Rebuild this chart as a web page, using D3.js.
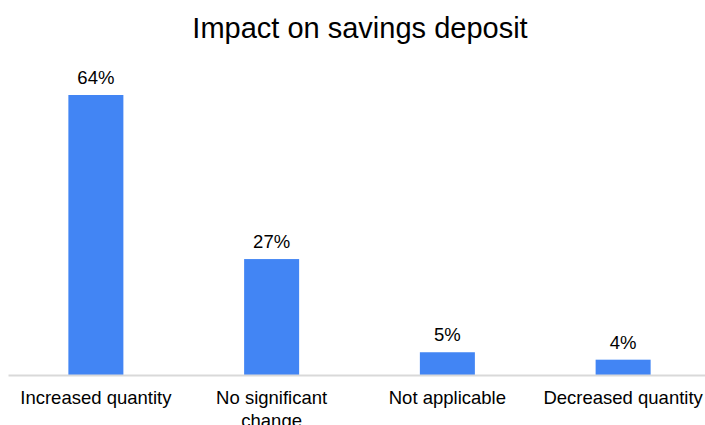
<!DOCTYPE html>
<html>
<head>
<meta charset="utf-8">
<script src="https://cdn.jsdelivr.net/npm/d3@7"></script>
<style>
  body { margin: 0; background: #fff; }
  text { font-family: "Liberation Sans", Arial, sans-serif; fill: #000; }
</style>
</head>
<body>
<div id="chart"></div>
<script>
'use strict'

const categories = ["Increased quantity", "No significant\nchange", "Not applicable", "Decreased quantity"];
const values = [64.0, 26.5, 5.2, 3.5];
const title = "Impact on savings deposit";

let svg = d3.select('#chart')
  .append('svg')
  .attr('width', 705)
  .attr('height', 425);

let baseY = 375;

let x = d3.scaleBand()
  .domain(categories)
  .range([8, 711])
  .paddingInner(0.687)
  .paddingOuter(0.3435);

let y = d3.scaleLinear()
  .domain([0, 70])
  .range([baseY, baseY - 70 * 4.375]);

svg.append('text')
  .attr('x', 360)
  .attr('y', 38)
  .attr('text-anchor', 'middle')
  .style('font-size', '29px')
  .text(title);

// bars
svg.selectAll('rect.bar')
  .data(values)
  .enter().append('rect')
  .attr('class', 'bar')
  .attr('x', (d, i) => x(categories[i]))
  .attr('y', d => y(d))
  .attr('width', x.bandwidth())
  .attr('height', d => y(0) - y(d))
  .attr('fill', '#4285f4');

// value labels
svg.selectAll('text.val')
  .data(values)
  .enter().append('text')
  .attr('class', 'val')
  .attr('x', (d, i) => x(categories[i]) + x.bandwidth() / 2)
  .attr('y', d => y(d) - 11)
  .attr('text-anchor', 'middle')
  .style('font-size', '18.5px')
  .text(d => Math.round(d) + '%');

// baseline
let xAxis = d3.axisBottom(x).tickSize(0).tickFormat('');
let gx = svg.append('g')
  .attr('transform', 'translate(0,' + baseY + ')')
  .call(xAxis);
gx.select('.domain').attr('stroke', '#d9d9d9').attr('stroke-width', 2);

// category labels, with line breaks
categories.forEach(c => {
  let t = svg.append('text')
    .attr('x', x(c) + x.bandwidth() / 2)
    .attr('y', 404)
    .attr('text-anchor', 'middle')
    .style('font-size', '18.5px');
  c.split('\n').forEach((line, j) => {
    t.append('tspan')
      .attr('x', x(c) + x.bandwidth() / 2)
      .attr('dy', j === 0 ? 0 : 23)
      .text(line);
  });
});
</script>
</body>
</html>
